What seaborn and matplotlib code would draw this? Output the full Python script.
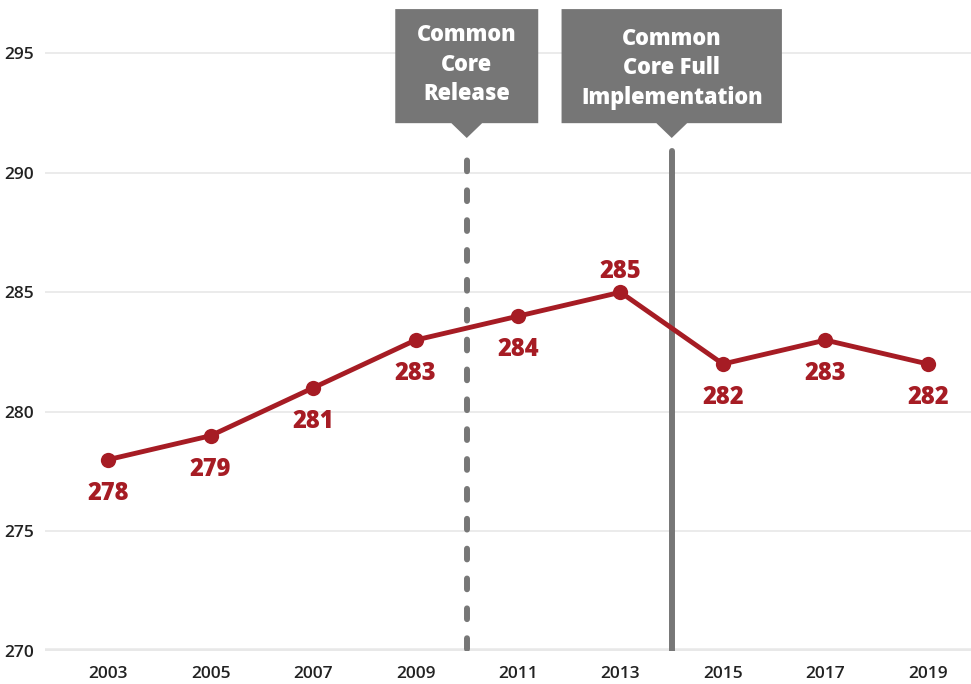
import matplotlib
matplotlib.use("Agg")
import matplotlib.pyplot as plt
from matplotlib.patches import Polygon
import seaborn as sns
import pandas as pd

# NAEP-style scores by year
years = [2003, 2005, 2007, 2009, 2011, 2013, 2015, 2017, 2019]
scores = [278, 279, 281, 283, 284, 285, 282, 283, 282]
label_above = [False, False, False, False, False, True, False, False, False]

y_ticks = [270, 275, 280, 285, 290, 295]

events = ["Common\nCore\nRelease", "Common\nCore Full\nImplementation"]
event_years = [2010, 2014]
event_styles = ["dashed", "solid"]

RED = "#a61c24"
GRAY = "#777777"

sns.set_theme(style="white")
plt.rcParams["font.family"] = ["Open Sans", "DejaVu Sans"]

df = pd.DataFrame({"year": years, "score": scores})

fig = plt.figure(figsize=(9.71, 6.84), dpi=100)
ax = fig.add_axes([45 / 971, 33 / 684, 926 / 971, 651 / 684])

ax.set_xlim(2001.77, 2019.84)
ax.set_ylim(270, 297.22)

for t in y_ticks:
    ax.axhline(t, color="#e8e8e8", lw=1.2 if t != 270 else 4, zorder=0,
               solid_capstyle="round")

# event lines
for yr, style in zip(event_years, event_styles):
    if style == "dashed":
        ax.plot([yr, yr], [270.1, 290.9], color=GRAY, lw=4.3,
                dashes=(1.8, 3.2), dash_capstyle="round", zorder=1)
    else:
        ax.plot([yr, yr], [270, 290.9], color=GRAY, lw=4.3,
                solid_capstyle="round", zorder=1)

sns.lineplot(data=df, x="year", y="score", color=RED, lw=3.5, marker="o",
             markersize=11, markeredgewidth=0, ax=ax, zorder=3)

for x, y, up in zip(years, scores, label_above):
    off = 15 if up else -24
    ax.annotate(str(y), (x, y), xytext=(0, off), textcoords="offset points",
                ha="center", va="center", color=RED, fontsize=17,
                fontweight="heavy", zorder=4)

# callout boxes with pointers
box_half = [1.395, 2.15]
text_y = [294.52, 294.37]
for text, yr, hw, ty in zip(events, event_years, box_half, text_y):
    box = Polygon([(yr - hw, 296.84), (yr + hw, 296.84), (yr + hw, 292.07),
                   (yr + 0.3, 292.07), (yr, 291.45), (yr - 0.3, 292.07),
                   (yr - hw, 292.07)], closed=True, facecolor="#767676",
                  edgecolor="none", clip_on=False, zorder=5)
    ax.add_patch(box)
    ax.text(yr, ty, text, ha="center", va="center", color="white",
            fontsize=15.7, fontweight="heavy", linespacing=1.31, zorder=6)

ax.set_xticks(years)
ax.set_yticks(y_ticks)
ax.tick_params(axis="both", length=0, labelsize=12.5, labelcolor="#222222")
ax.tick_params(axis="x", pad=11)
ax.tick_params(axis="y", pad=8)
for lab in ax.get_xticklabels() + ax.get_yticklabels():
    lab.set_fontweight("semibold")
ax.set_xlabel("")
ax.set_ylabel("")
sns.despine(ax=ax, left=True, bottom=True, top=True, right=True)

fig.savefig("out.png", dpi=100)
